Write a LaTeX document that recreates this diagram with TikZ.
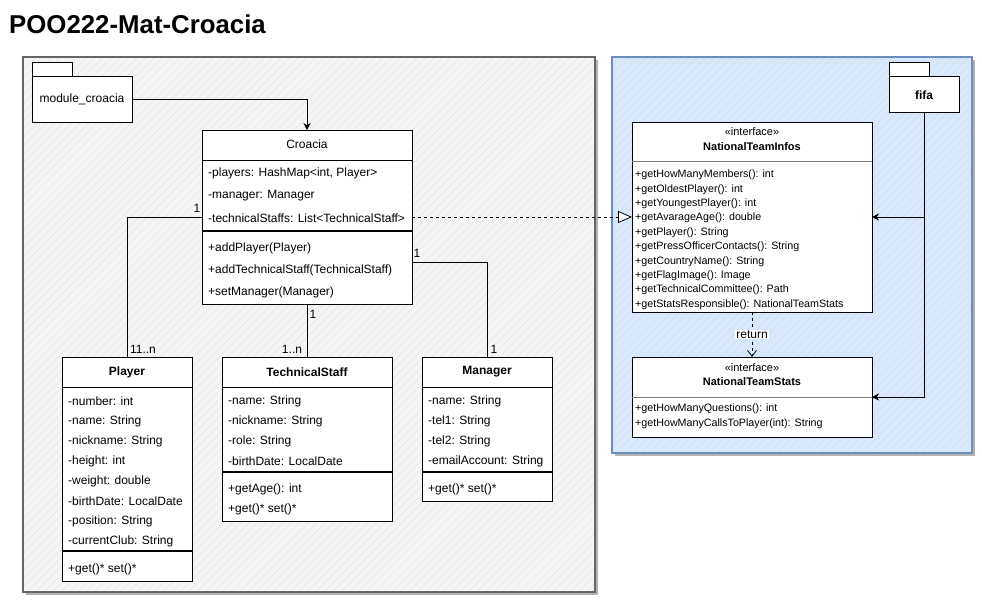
\documentclass[tikz,border=0pt]{standalone}
\usepackage{fontspec}
\setmainfont{Liberation Sans}
\usetikzlibrary{arrows.meta,shadows,patterns.meta,calc}
\definecolor{pkggray}{HTML}{F5F5F5}
\definecolor{pkgblue}{HTML}{DAE8FC}
\definecolor{bordblue}{HTML}{6C8EBF}
\definecolor{bordgray}{HTML}{666666}
\definecolor{hatchgray}{HTML}{E6E6E6}
\definecolor{hatchblue}{HTML}{CCDDF5}
\tikzset{
  pkg/.style={anchor=north west, inner sep=0pt, outer sep=0pt, line width=1.3pt,
    drop shadow={shadow xshift=3pt, shadow yshift=-3pt, fill=black, opacity=0.3}},
  cls/.style={draw=black, fill=white, line width=0.8pt, anchor=north west, inner sep=0pt, outer sep=0pt},
  txt/.style={anchor=west, inner sep=0pt, font=\fontsize{12}{14}\selectfont},
  itxt/.style={anchor=west, inner sep=0pt, font=\fontsize{10.7}{13}\selectfont},
  hdr/.style={inner sep=0pt, font=\fontsize{12}{14}\selectfont\bfseries},
  mult/.style={inner sep=1pt, font=\fontsize{12}{14}\selectfont, fill=pkggray},
  conn/.style={line width=0.8pt, draw=black},
  sep/.style={line width=1.3pt},
}
\begin{document}
\begin{tikzpicture}[x=1pt,y=-1pt]
\useasboundingbox (0,0) rectangle (982,602);

% title
\node[anchor=west, inner sep=0pt, font=\fontsize{25.8}{30}\selectfont\bfseries] (title) at (9,24) {POO222-Mat-Croacia};

% packages
\node[pkg, draw=bordgray, fill=pkggray, minimum width=572pt, minimum height=535pt,
  postaction={pattern={Lines[angle=45,distance=6pt,line width=0.5pt]}, pattern color=hatchgray}] (leftpkg) at (23,57) {};
\draw[bordgray, line width=1.3pt] (leftpkg.north west) rectangle (leftpkg.south east);
\node[pkg, draw=bordblue, fill=pkgblue, minimum width=360pt, minimum height=396pt,
  postaction={pattern={Lines[angle=45,distance=6pt,line width=0.5pt]}, pattern color=hatchblue}] (rightpkg) at (612,57) {};
\draw[bordblue, line width=1.3pt] (rightpkg.north west) rectangle (rightpkg.south east);

% module_croacia folder
\draw[fill=white, line width=0.8pt] (32,62) rectangle (72,76);
\node[cls, minimum width=100pt, minimum height=46pt, font=\fontsize{12}{14}\selectfont] (module) at (32,76) {};
\node[inner sep=0pt, font=\fontsize{12}{14}\selectfont] (modulelbl) at (82,99) {module\_croacia};

% fifa folder
\draw[fill=white, line width=0.8pt] (889,62) rectangle (929,76);
\node[cls, minimum width=70pt, minimum height=36pt] (fifa) at (889,76) {};
\node[hdr] (fifalbl) at (924,95) {fifa};

% Croacia
\node[cls, minimum width=210pt, minimum height=174pt] (croacia) at (202,130) {};
\node[inner sep=0pt, font=\fontsize{12}{14}\selectfont] (croaciahdr) at (307,144) {Croacia};
\draw[line width=0.8pt] (202,160) -- (412,160);
\draw[sep] (202,231) -- (412,231);
\node[txt] (c1) at (208,173) {-players: HashMap<int, Player>};
\node[txt] (c2) at (208,196) {-manager: Manager};
\node[txt] (c3) at (208,218) {-technicalStaffs: List<TechnicalStaff>};
\node[txt] (c4) at (208,248) {+addPlayer(Player)};
\node[txt] (c5) at (208,270) {+addTechnicalStaff(TechnicalStaff)};
\node[txt] (c6) at (208,292) {+setManager(Manager)};

% Player
\node[cls, minimum width=130pt, minimum height=224pt] (player) at (62,357) {};
\node[hdr] (playerhdr) at (127,372) {Player};
\draw[line width=0.8pt] (62,387) -- (192,387);
\draw[sep] (62,551) -- (192,551);
\foreach \t [count=\i] in {-number: int, -name: String, -nickname: String, -height: int, -weight: double, -birthDate: LocalDate, -position: String, -currentClub: String}
  \node[txt] (p\i) at (68,{401+20*(\i-1)}) {\t};
\node[txt] (p9) at (68,569) {+get()* set()*};

% TechnicalStaff
\node[cls, minimum width=170pt, minimum height=164pt] (tech) at (222,357) {};
\node[hdr] (techhdr) at (307,372) {TechnicalStaff};
\draw[line width=0.8pt] (222,387) -- (392,387);
\draw[sep] (222,472) -- (392,472);
\foreach \t [count=\i] in {-name: String, -nickname: String, -role: String, -birthDate: LocalDate}
  \node[txt] (t\i) at (228,{401+20*(\i-1)}) {\t};
\node[txt] (t5) at (228,489) {+getAge(): int};
\node[txt] (t6) at (228,509) {+get()* set()*};

% Manager
\node[cls, minimum width=130pt, minimum height=144pt] (manager) at (422,357) {};
\node[hdr] (managerhdr) at (487,372) {Manager};
\draw[line width=0.8pt] (422,387) -- (552,387);
\draw[sep] (422,472) -- (552,472);
\foreach \t [count=\i] in {-name: String, -tel1: String, -tel2: String, -emailAccount: String}
  \node[txt] (m\i) at (428,{401+20*(\i-1)}) {\t};
\node[txt] (m5) at (428,489) {+get()* set()*};

% NationalTeamInfos
\node[cls, minimum width=240pt, minimum height=190pt] (nti) at (632,122) {};
\node[inner sep=0pt, font=\fontsize{11}{13}\selectfont] (ntist) at (752,132) {«interface»};
\node[inner sep=0pt, font=\fontsize{11}{13}\selectfont\bfseries] (ntihdr) at (752,147) {NationalTeamInfos};
\draw[line width=0.8pt, black!50] (632,161) -- (872,161);
\foreach \t [count=\i] in {+getHowManyMembers(): int, +getOldestPlayer(): int, +getYoungestPlayer(): int, +getAvarageAge(): double, +getPlayer(): String, +getPressOfficerContacts(): String, +getCountryName(): String, +getFlagImage(): Image, +getTechnicalCommittee(): Path, +getStatsResponsible(): NationalTeamStats}
  \node[itxt] (n\i) at (635,{175+14.4*(\i-1)}) {\t};

% NationalTeamStats
\node[cls, minimum width=240pt, minimum height=80pt] (nts) at (632,357) {};
\node[inner sep=0pt, font=\fontsize{11}{13}\selectfont] (ntsst) at (752,368) {«interface»};
\node[inner sep=0pt, font=\fontsize{11}{13}\selectfont\bfseries] (ntshdr) at (752,382) {NationalTeamStats};
\draw[line width=0.8pt, black!50] (632,397) -- (872,397);
\node[itxt] (s1) at (635,409) {+getHowManyQuestions(): int};
\node[itxt] (s2) at (635,424) {+getHowManyCallsToPlayer(int): String};

% connectors
\draw[conn, -{Stealth[length=7pt,width=7pt]}] (module.east) -| (croacia.north);
\draw[conn] (croacia.west) -| (player.north);
\draw[conn] (croacia.south) -- (tech.north);
\draw[conn] ($(croacia.east)+(0,45)$) -| (manager.north);
\draw[conn, dashed, dash pattern=on 3pt off 3pt, -{Triangle[open, length=14pt, width=12pt, fill=white]}] (croacia.east) -- (nti.west);
\draw[conn, -{Stealth[length=7pt,width=7pt]}] (fifa.south) |- (nti.east);
\draw[conn, -{Stealth[length=7pt,width=7pt]}] (fifa.south) |- (nts.east);
\draw[conn, dashed, dash pattern=on 3pt off 3pt, -{Straight Barb[length=6pt,width=9pt]}] (nti.south) -- node[fill=white, inner sep=1pt, font=\fontsize{12}{14}\selectfont] (retlbl) {return} (nts.north);

% multiplicities
\node[mult] (m1a) at (197,208) {1};
\node[mult] (m1b) at (143,349) {11..n};
\node[mult] (m2a) at (313,314) {1};
\node[mult] (m2b) at (292,349) {1..n};
\node[mult] (m3a) at (417,253) {1};
\node[mult] (m3b) at (494,349) {1};
\end{tikzpicture}
\end{document}
